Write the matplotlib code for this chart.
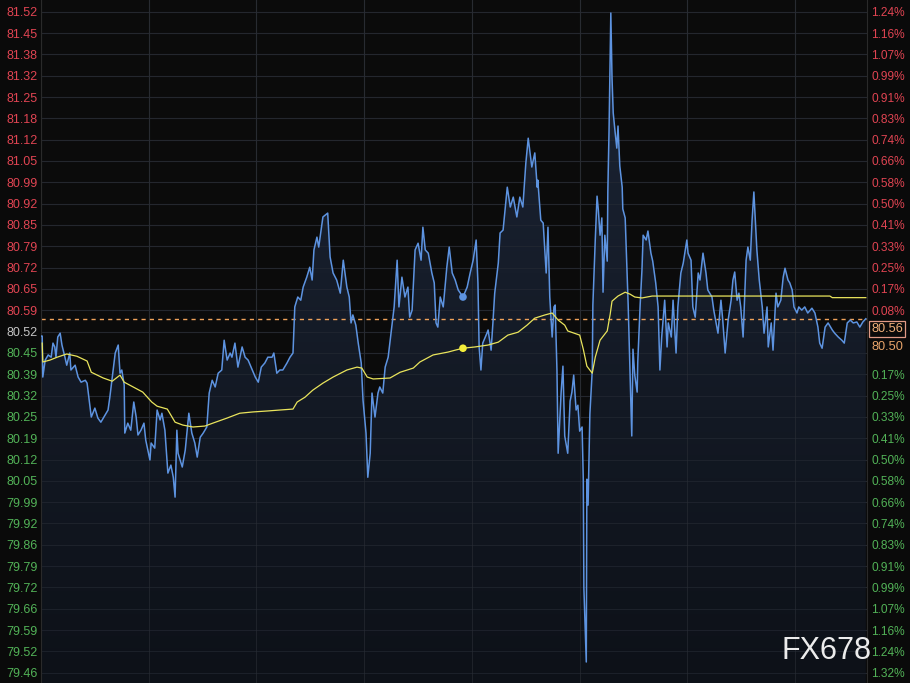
import numpy as np
import matplotlib
matplotlib.use("Agg")
import matplotlib.pyplot as plt
from matplotlib.colors import LinearSegmentedColormap

plt.rcParams['font.family'] = ['Liberation Sans', 'DejaVu Sans']

# ---------------- data ----------------
# minutes from session open (23-hour session), price
price_t = [0, 2, 3, 7, 12, 17, 20, 23, 25, 28, 32, 35, 40, 43, 48, 50, 57, 62, 67, 74, 77, 82, 84, 90, 95,
           100, 107, 112, 115, 120, 124, 129, 132, 135, 139, 140, 145, 150, 155, 159, 162, 167, 172, 175,
           182, 184, 190, 194, 199, 202, 207, 212, 217, 221, 224, 227, 229, 236, 241, 247, 252, 257, 261,
           266, 271, 277, 281, 286, 291, 296, 302, 306, 311, 316, 319, 324, 329, 336, 341, 346, 353, 358,
           363, 368, 374, 379, 386, 389, 394, 399, 404, 411, 416, 421, 424, 429, 434, 438, 444, 449, 453,
           456, 461, 464, 471, 479, 483, 488, 494, 500, 505, 511, 515, 518, 521, 526, 530, 535, 538, 543,
           546, 550, 553, 558, 563, 566, 571, 575, 580, 586, 590, 595, 598, 603, 608, 613, 616, 620, 625,
           630, 635, 638, 642, 647, 653, 657, 660, 663, 667, 672, 678, 682, 687, 692, 697, 705, 712, 717,
           722, 727, 730, 732, 735, 738, 745, 747, 752, 755, 758, 764, 767, 772, 779, 784, 789, 795, 800,
           805, 810, 814, 817, 820, 825, 829, 830, 835, 839, 844, 847, 850, 854, 857, 859, 862, 864, 869,
           872, 875, 880, 884, 887, 890, 894, 897, 900, 904, 906, 907, 911, 912, 914, 917, 921, 922, 926,
           929, 931, 934, 937, 939, 942, 946, 947, 949, 952, 954, 956, 959, 962, 964, 967, 971, 972, 976,
           979, 981, 984, 987, 989, 992, 996, 997, 1001, 1004, 1006, 1011, 1014, 1019, 1022, 1027, 1031,
           1034, 1037, 1042, 1046, 1048, 1053, 1056, 1061, 1064, 1069, 1073, 1079, 1081, 1086, 1089, 1093,
           1098, 1101, 1106, 1111, 1114, 1121, 1124, 1131, 1136, 1139, 1143, 1148, 1153, 1156, 1159, 1163,
           1166, 1169, 1173, 1178, 1181, 1185, 1188, 1191, 1196, 1200, 1205, 1208, 1213, 1215, 1220, 1223,
           1228, 1231, 1236, 1240, 1243, 1248, 1251, 1255, 1258, 1263, 1266, 1271, 1276, 1281, 1288, 1293,
           1298, 1301, 1305, 1310, 1315, 1322, 1326, 1332, 1338, 1342, 1347, 1352, 1357, 1363, 1368, 1373,
           1378]
price = [80.506, 80.506, 80.378, 80.431, 80.447, 80.440, 80.484, 80.472, 80.440, 80.503, 80.515, 80.478,
         80.440, 80.415, 80.453, 80.400, 80.415, 80.378, 80.362, 80.368, 80.359, 80.284, 80.253, 80.281,
         80.250, 80.237, 80.259, 80.275, 80.315, 80.393, 80.453, 80.478, 80.390, 80.400, 80.353, 80.203,
         80.234, 80.212, 80.300, 80.253, 80.197, 80.212, 80.234, 80.181, 80.119, 80.172, 80.156, 80.275,
         80.244, 80.265, 80.212, 80.078, 80.103, 80.065, 80.003, 80.212, 80.140, 80.097, 80.150, 80.265,
         80.203, 80.172, 80.128, 80.190, 80.203, 80.222, 80.328, 80.368, 80.347, 80.390, 80.400, 80.493,
         80.431, 80.453, 80.440, 80.484, 80.409, 80.472, 80.440, 80.431, 80.400, 80.378, 80.362, 80.409,
         80.422, 80.440, 80.440, 80.453, 80.390, 80.400, 80.400, 80.422, 80.440, 80.453, 80.597, 80.628,
         80.618, 80.659, 80.690, 80.721, 80.681, 80.775, 80.815, 80.784, 80.878, 80.890, 80.753, 80.703,
         80.681, 80.640, 80.743, 80.659, 80.628, 80.547, 80.572, 80.540, 80.484, 80.422, 80.306, 80.203,
         80.065, 80.140, 80.328, 80.253, 80.328, 80.347, 80.328, 80.409, 80.440, 80.534, 80.597, 80.743,
         80.597, 80.690, 80.628, 80.659, 80.565, 80.587, 80.775, 80.796, 80.743, 80.846, 80.775, 80.765,
         80.703, 80.672, 80.547, 80.534, 80.628, 80.597, 80.721, 80.784, 80.703, 80.681, 80.650, 80.628,
         80.659, 80.703, 80.743, 80.806, 80.672, 80.472, 80.400, 80.484, 80.515, 80.525, 80.462, 80.547,
         80.640, 80.734, 80.828, 80.837, 80.971, 80.909, 80.940, 80.878, 80.940, 80.909, 81.046, 81.124,
         81.078, 81.034, 81.078, 80.971, 80.993, 80.868, 80.859, 80.703, 80.846, 80.628, 80.503, 80.597,
         80.603, 80.400, 80.140, 80.331, 80.412, 80.194, 80.140, 80.303, 80.331, 80.384, 80.275, 80.290,
         80.209, 80.222, 80.059, 79.719, 79.488, 80.059, 79.978, 80.262, 80.400, 80.603, 80.806, 80.943,
         80.903, 80.821, 80.875, 80.643, 80.821, 80.740, 80.956, 81.146, 81.515, 81.312, 81.203, 81.146,
         81.093, 81.162, 81.037, 80.971, 80.903, 80.875, 80.712, 80.603, 80.400, 80.194, 80.465, 80.384,
         80.331, 80.425, 80.603, 80.712, 80.821, 80.806, 80.834, 80.765, 80.740, 80.672, 80.597, 80.400,
         80.503, 80.618, 80.472, 80.547, 80.503, 80.618, 80.453, 80.597, 80.703, 80.734, 80.806, 80.765,
         80.743, 80.597, 80.565, 80.703, 80.681, 80.765, 80.703, 80.650, 80.628, 80.587, 80.515, 80.618,
         80.556, 80.453, 80.556, 80.618, 80.681, 80.706, 80.618, 80.640, 80.597, 80.503, 80.743, 80.784,
         80.743, 80.868, 80.956, 80.775, 80.681, 80.597, 80.515, 80.597, 80.472, 80.547, 80.462, 80.640,
         80.597, 80.618, 80.690, 80.718, 80.681, 80.672, 80.650, 80.597, 80.578, 80.597, 80.587, 80.597,
         80.578, 80.593, 80.578, 80.534, 80.484, 80.468, 80.534, 80.547, 80.525, 80.515, 80.503, 80.493,
         80.484, 80.547, 80.556, 80.547, 80.550, 80.534, 80.550, 80.560]

avg_t = [2, 3, 15, 27, 43, 60, 77, 84, 94, 104, 119, 132, 139, 154, 170, 185, 194, 211, 224, 237, 254, 274,
         287, 311, 332, 354, 378, 399, 421, 428, 441, 454, 471, 488, 511, 528, 536, 545, 555, 583, 600,
         622, 633, 655, 680, 692, 705, 725, 747, 764, 780, 797, 812, 825, 842, 854, 864, 875, 880, 900,
         906, 912, 921, 926, 934, 946, 951, 954, 964, 976, 984, 992, 1004, 1021, 1034, 1168, 1318, 1322,
         1378]
avg = [80.484, 80.425, 80.431, 80.440, 80.450, 80.443, 80.428, 80.393, 80.384, 80.375, 80.365, 80.384,
       80.362, 80.347, 80.331, 80.300, 80.287, 80.278, 80.237, 80.228, 80.222, 80.225, 80.234, 80.250,
       80.265, 80.269, 80.272, 80.275, 80.278, 80.300, 80.315, 80.337, 80.359, 80.378, 80.400, 80.409,
       80.406, 80.378, 80.372, 80.375, 80.393, 80.406, 80.425, 80.447, 80.456, 80.462, 80.468, 80.472,
       80.478, 80.487, 80.509, 80.518, 80.540, 80.562, 80.572, 80.578, 80.556, 80.540, 80.522, 80.509,
       80.465, 80.412, 80.390, 80.440, 80.493, 80.522, 80.575, 80.615, 80.631, 80.643, 80.637, 80.628,
       80.625, 80.631, 80.631, 80.631, 80.631, 80.626, 80.626]

cursor_t = 705
cursor_price = 80.628
cursor_avg = 80.468

prev_close = 80.52
last_price = 80.56
last_label = "80.56"
avg_label = "80.50"

left_labels = ["81.52", "81.45", "81.38", "81.32", "81.25", "81.18", "81.12", "81.05", "80.99", "80.92",
               "80.85", "80.79", "80.72", "80.65", "80.59", "80.52", "80.45", "80.39", "80.32", "80.25",
               "80.19", "80.12", "80.05", "79.99", "79.92", "79.86", "79.79", "79.72", "79.66", "79.59",
               "79.52", "79.46"]
# the 0.00% and the first lower 0.08% labels sit under the price tags
right_labels = ["1.24%", "1.16%", "1.07%", "0.99%", "0.91%", "0.83%", "0.74%", "0.66%", "0.58%", "0.50%",
                "0.41%", "0.33%", "0.25%", "0.17%", "0.08%", "", "", "0.17%", "0.25%", "0.33%",
                "0.41%", "0.50%", "0.58%", "0.66%", "0.74%", "0.83%", "0.91%", "0.99%", "1.07%", "1.16%",
                "1.24%", "1.32%"]
session_minutes = 1380
grid_every = 180
step = 0.0666
watermark = "FX678"

# ---------------- figure ----------------
W, H = 910, 683
fig = plt.figure(figsize=(W / 100, H / 100), dpi=100, facecolor='#0a0a0a')
ax = fig.add_axes([41 / W, 0, 826 / W, 1])
ax.set_facecolor('#0b0b0b')

ytop = prev_close + 15.55 * step
ybot = prev_close - 16.48 * step
ax.set_ylim(ybot, ytop)
ax.set_xlim(0, session_minutes)

n = len(left_labels)
tick_pos = [prev_close + (15 - i) * step for i in range(n)]

# grid
for y in tick_pos:
    ax.axhline(y, color='#222326', lw=0.8, zorder=0.5)
for x in range(0, session_minutes + 1, grid_every):
    ax.axvline(x, color='#26282c', lw=0.8, zorder=0.5)

# gradient fill under price
t = np.array(price_t, dtype=float)
p = np.array(price)
poly = ax.fill_between(t, p, ybot, facecolor='none', edgecolor='none')
cmap = LinearSegmentedColormap.from_list('g', ['#0d1118', '#1c2536'])
grad = np.linspace(0, 1, 256).reshape(-1, 1)
im = ax.imshow(grad, extent=[0, session_minutes, ybot, ytop], aspect='auto', cmap=cmap,
               origin='lower', zorder=1, interpolation='bilinear')
im.set_clip_path(poly.get_paths()[0], transform=ax.transData)

# grid over fill, faint
for y in tick_pos:
    ax.axhline(y, color='#262b35', lw=0.8, zorder=1.2, alpha=0.6)
for x in range(0, session_minutes + 1, grid_every):
    ax.axvline(x, color='#2a2e36', lw=0.8, zorder=1.2, alpha=0.6)

ax.plot(t, p, color='#5d93e0', lw=1.1, zorder=3)
ax.plot(avg_t, avg, color='#e9e45c', lw=0.9, zorder=4)
ax.axhline(last_price, color='#f0a25a', lw=1.0, ls=(0, (3, 3)), zorder=2.5)

ax.scatter([cursor_t], [cursor_price], s=30, color='#5d93e0', zorder=5, edgecolors='none')
ax.scatter([cursor_t], [cursor_avg], s=30, color='#f4ee3a', zorder=5, edgecolors='none')

for s in ax.spines.values():
    s.set_visible(False)
ax.spines['left'].set_visible(True)
ax.spines['left'].set_color('#2a2a2a')
ax.spines['right'].set_visible(True)
ax.spines['right'].set_color('#2a2a2a')

# left ticks
ax.set_yticks(tick_pos)
ax.set_yticklabels(left_labels)
ax.tick_params(axis='y', length=0, pad=2.5, labelsize=9)
ax.set_xticks([])
for i, lab in enumerate(ax.get_yticklabels()):
    if i < 15:
        lab.set_color('#e04452')
    elif i == 15:
        lab.set_color('#c4c4c4')
    else:
        lab.set_color('#52b257')

# right ticks
ax2 = ax.twinx()
ax2.set_ylim(ybot, ytop)
ax2.set_yticks(tick_pos)
ax2.set_yticklabels(right_labels)
ax2.tick_params(axis='y', length=0, pad=3, labelsize=8.6)
for s in ax2.spines.values():
    s.set_visible(False)
for i, lab in enumerate(ax2.get_yticklabels()):
    lab.set_color('#e04452' if i < 15 else '#52b257')

# right price tags
fig.text(871 / W, 1 - 329 / H, last_label, color='#f0b07a', fontsize=9.2, va='center', ha='left',
         bbox=dict(boxstyle='square,pad=0.15', facecolor='#0a0a0a', edgecolor='#e09a86', lw=0.9),
         zorder=10)
fig.text(871 / W, 1 - 347 / H, avg_label, color='#e8a46a', fontsize=9.2, va='center', ha='left',
         zorder=10)

# watermark
fig.text(781 / W, 1 - 659 / H, watermark, color='#ececec', fontsize=22, ha='left', va='baseline',
         zorder=11, family=['Liberation Sans', 'DejaVu Sans'])

fig.savefig('out.png', dpi=100, facecolor=fig.get_facecolor())
